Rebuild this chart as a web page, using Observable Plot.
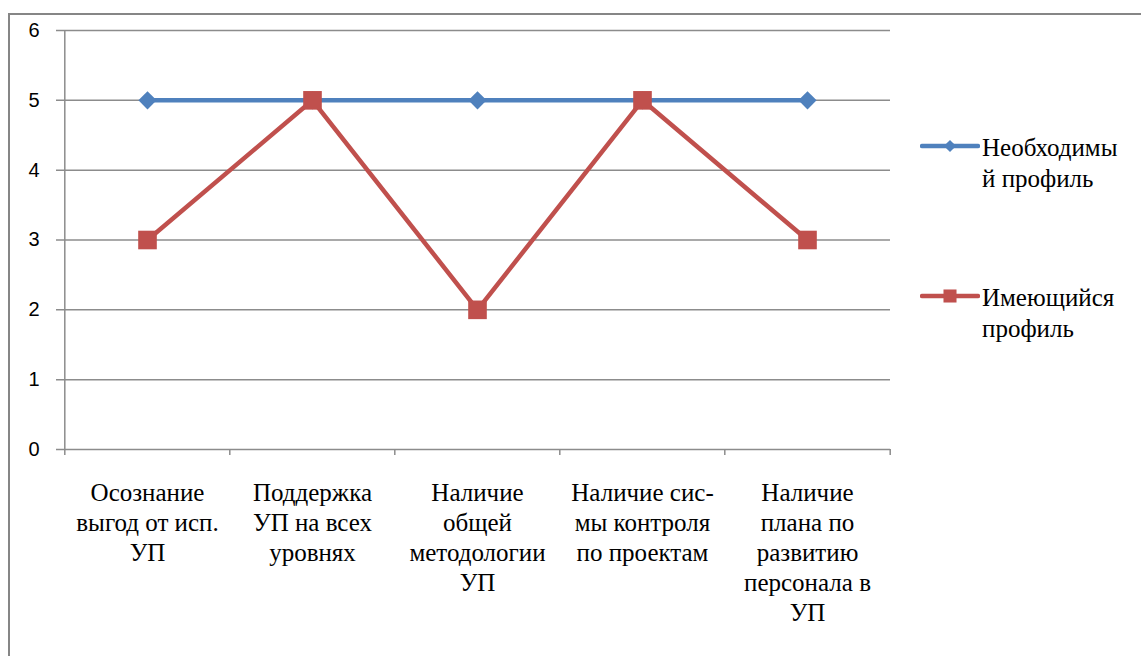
<!DOCTYPE html>
<html>
<head>
<meta charset="utf-8">
<script src="https://cdn.jsdelivr.net/npm/d3@7"></script>
<script src="https://cdn.jsdelivr.net/npm/@observablehq/plot@0.6"></script>
<style>
  html, body { margin: 0; padding: 0; background: #fff; }
  #wrap { position: relative; width: 1141px; height: 656px; overflow: hidden; }
  #border { position: absolute; left: 8px; top: 13px; width: 1200px; height: 700px;
            border-top: 2px solid #868686; border-left: 2px solid #868686; }
  .leg { position: absolute; left: 920px; font-size: 25px; line-height: 31px; color: #000; }
  .leg svg { position: absolute; left: 0; }
  .leg .t { position: absolute; left: 62px; top: 0; white-space: nowrap; }
  #plot { position: absolute; left: 0; top: 0; }
</style>
</head>
<body>
<div id="wrap">
  <div id="border"></div>
  <div id="plot"></div>
</div>
<script>
const categories = [
  "Осознание\nвыгод от исп.\nУП",
  "Поддержка\nУП на всех\nуровнях",
  "Наличие\nобщей\nметодологии\nУП",
  "Наличие сис-\nмы контроля\nпо проектам",
  "Наличие\nплана по\nразвитию\nперсонала в\nУП"
];
const seriesNames = ["Необходимый профиль", "Имеющийся профиль"];
const legendLabels = [["Необходимы", "й профиль"], ["Имеющийся", "профиль"]];
const requiredValues = [5, 5, 5, 5, 5];
const currentValues = [3, 5, 2, 5, 3];
const yTicks = [0, 1, 2, 3, 4, 5, 6];
const colors = ["#4F81BD", "#C0504D"];

const W = 1141, H = 656;
const mL = 63, mR = 251, mT = 30, mB = 207;
const step = (W - mL - mR) / categories.length;

const required = categories.map((c, i) => ({cat: c, v: requiredValues[i]}));
const current = categories.map((c, i) => ({cat: c, v: currentValues[i]}));

const grid = "#8c8c8c";
const plot = Plot.plot({
  width: W, height: H,
  marginLeft: mL, marginRight: mR, marginTop: mT, marginBottom: mB,
  x: {type: "point", domain: categories, padding: 0.5, axis: null},
  y: {domain: [0, 6], axis: null},
  style: {background: "transparent", overflow: "visible"},
  marks: [
    Plot.ruleY(yTicks, {y: d => d, stroke: grid, strokeWidth: 1.5, insetLeft: -7}),
    Plot.ruleX([categories[0]], {x: d => d, y1: 6, y2: 0, dx: -step / 2, stroke: grid, strokeWidth: 1.5, insetBottom: -6}),
    Plot.ruleX(categories.slice(1), {x: d => d, y1: 0, y2: 0, dx: -step / 2, stroke: grid, strokeWidth: 1.5, insetBottom: -6}),
    Plot.ruleX([categories[categories.length - 1]], {x: d => d, y1: 0, y2: 0, dx: step / 2, stroke: grid, strokeWidth: 1.5, insetBottom: -6}),
    Plot.text(yTicks, {y: d => d, text: d => String(d), frameAnchor: "left", dx: -24, textAnchor: "end",
      fontSize: 20, fontFamily: "Liberation Sans", fill: "#000"}),
    Plot.text(categories, {x: d => d, text: d => d, frameAnchor: "bottom", lineAnchor: "top", dy: 30,
      lineHeight: 1.2, fontSize: 25, fontFamily: "Liberation Serif", fill: "#000"}),
    Plot.line(required, {x: "cat", y: "v", stroke: colors[0], strokeWidth: 4.5}),
    Plot.dot(required, {x: "cat", y: "v", symbol: "diamond2", r: 8.2, fill: colors[0], stroke: null}),
    Plot.line(current, {x: "cat", y: "v", stroke: colors[1], strokeWidth: 4.5}),
    Plot.dot(current, {x: "cat", y: "v", symbol: "square", r: 10.5, fill: colors[1], stroke: null})
  ]
});
document.getElementById("plot").appendChild(plot);

// legend
const wrap = document.getElementById("wrap");
const legTops = [132, 282];
legendLabels.forEach((lines, i) => {
  const div = document.createElement("div");
  div.className = "leg";
  div.style.top = legTops[i] + "px";
  const svg = d3.create("svg").attr("width", 60).attr("height", 31);
  svg.append("line").attr("x1", 2).attr("x2", 58).attr("y1", 14).attr("y2", 14)
    .attr("stroke", colors[i]).attr("stroke-width", 4.5).attr("stroke-linecap", "round");
  const sym = i === 0 ? d3.symbolDiamond2 : d3.symbolSquare;
  const size = i === 0 ? 95 : 170;
  svg.append("path").attr("d", d3.symbol(sym, size)()).attr("transform", "translate(30,14)")
    .attr("fill", colors[i]);
  div.appendChild(svg.node());
  const t = document.createElement("div");
  t.className = "t";
  t.setAttribute("style", "font-family:'Liberation Serif'");
  t.innerHTML = lines.join("<br>");
  div.appendChild(t);
  wrap.appendChild(div);
});
</script>
</body>
</html>
